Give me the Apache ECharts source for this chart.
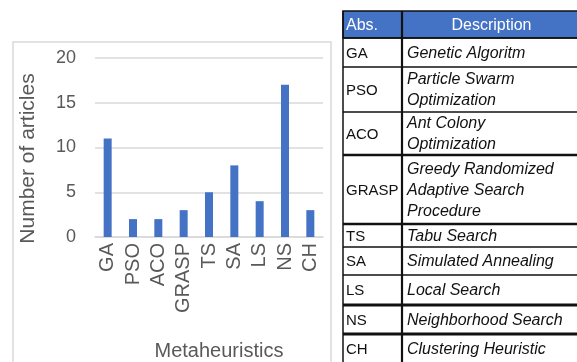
<!DOCTYPE html>
<html><head><meta charset="utf-8">
<script src="https://cdn.jsdelivr.net/npm/echarts@6/dist/echarts.min.js"></script>
<style>html,body{margin:0;padding:0;background:#fff}#c{width:577px;height:362px}</style>
</head><body><div id="c"></div>
<script>
const categories = ['GA','PSO','ACO','GRASP','TS','SA','LS','NS','CH'];
const articleCounts = [11,2,2,3,5,8,4,17,3];
const yTicks = [0,5,10,15,20];
const tableHeader = ['Abs.','Description'];
const abbreviations = ['GA','PSO','ACO','GRASP','TS','SA','LS','NS','CH'];
const descriptions = [
  ['Genetic Algoritm'],
  ['Particle Swarm','Optimization'],
  ['Ant Colony','Optimization'],
  ['Greedy Randomized','Adaptive Search','Procedure'],
  ['Tabu Search'],
  ['Simulated Annealing'],
  ['Local Search'],
  ['Neighborhood Search'],
  ['Clustering Heuristic']
];

const chart = echarts.init(document.getElementById('c'), null, {renderer:'canvas'});
const F = 'Liberation Sans, Arial, sans-serif';

// table layout
const tL = 343, tDiv = 402, tR = 581, hTop = 11, hBot = 38;
const rowEdges = [38,67,112,155,224,247,275,305,334,366];
const thick = {155:2.5, 224:2.5, 305:2.8, 334:2.8};
const g = [];
g.push({type:'rect', shape:{x:13,y:42,width:318,height:340}, style:{fill:'none', stroke:'#d9d9d9', lineWidth:1.5}, z:0});
g.push({type:'rect', shape:{x:tL,y:hTop,width:tR-tL,height:hBot-hTop}, style:{fill:'#4472C4', stroke:'#111', lineWidth:1.5}});
g.push({type:'text', style:{text:tableHeader[0], x:tL+3, y:(hTop+hBot)/2+1, fill:'#fff', fontSize:16, fontFamily:F, verticalAlign:'middle'}});
g.push({type:'text', style:{text:tableHeader[1], x:(tDiv+tR)/2, y:(hTop+hBot)/2+1, fill:'#fff', fontSize:16, fontFamily:F, align:'center', verticalAlign:'middle'}});
rowEdges.forEach(y => {
  g.push({type:'line', shape:{x1:tL,y1:y,x2:tR,y2:y}, style:{stroke:'#111', lineWidth:thick[y]||1.4}});
});
g.push({type:'line', shape:{x1:tL,y1:hTop,x2:tL,y2:366}, style:{stroke:'#111', lineWidth:1.5}});
g.push({type:'line', shape:{x1:tDiv,y1:hTop,x2:tDiv,y2:366}, style:{stroke:'#111', lineWidth:2.2}});
abbreviations.forEach((a,i) => {
  const cy = (rowEdges[i]+rowEdges[i+1])/2 + (i===8 ? -1 : 0);
  g.push({type:'text', style:{text:a, x:tL+3, y:cy+1, fill:'#111', fontSize:15, fontFamily:F, verticalAlign:'middle'}});
  g.push({type:'text', style:{text:descriptions[i].join('\n'), x:tDiv+5, y:cy+1, fill:'#111', fontSize:16, fontStyle:'italic', fontFamily:F, lineHeight:21, verticalAlign:'middle'}});
});

chart.setOption({
  backgroundColor:'#fff',
  animation:false,
  grid:{left:95, right:254, top:58, bottom:125},
  xAxis:{
    type:'category', data:categories,
    axisTick:{show:false},
    axisLine:{lineStyle:{color:'#d9d9d9', width:1.5}},
    axisLabel:{rotate:90, color:'#595959', fontSize:20, fontFamily:F, margin:6, interval:0},
    name:'Metaheuristics', nameLocation:'middle', nameGap:104,
    nameTextStyle:{color:'#595959', fontSize:20, fontFamily:F, padding:[0,0,0,20]}
  },
  yAxis:{
    type:'value', min:0, max:20, interval:5,
    axisLine:{show:false}, axisTick:{show:false},
    splitLine:{lineStyle:{color:'#d9d9d9', width:1.5}},
    axisLabel:{color:'#595959', fontSize:18, fontFamily:F, margin:19,
      formatter: v => yTicks.includes(v) ? String(v) : ''},
    name:'Number of articles', nameLocation:'middle', nameGap:56, nameRotate:90,
    nameTextStyle:{color:'#595959', fontSize:21, fontFamily:F, padding:[0,22,0,0]}
  },
  series:[{type:'bar', data:articleCounts, barWidth:8, itemStyle:{color:'#4472C4'}}],
  graphic:g
});
</script></body></html>
